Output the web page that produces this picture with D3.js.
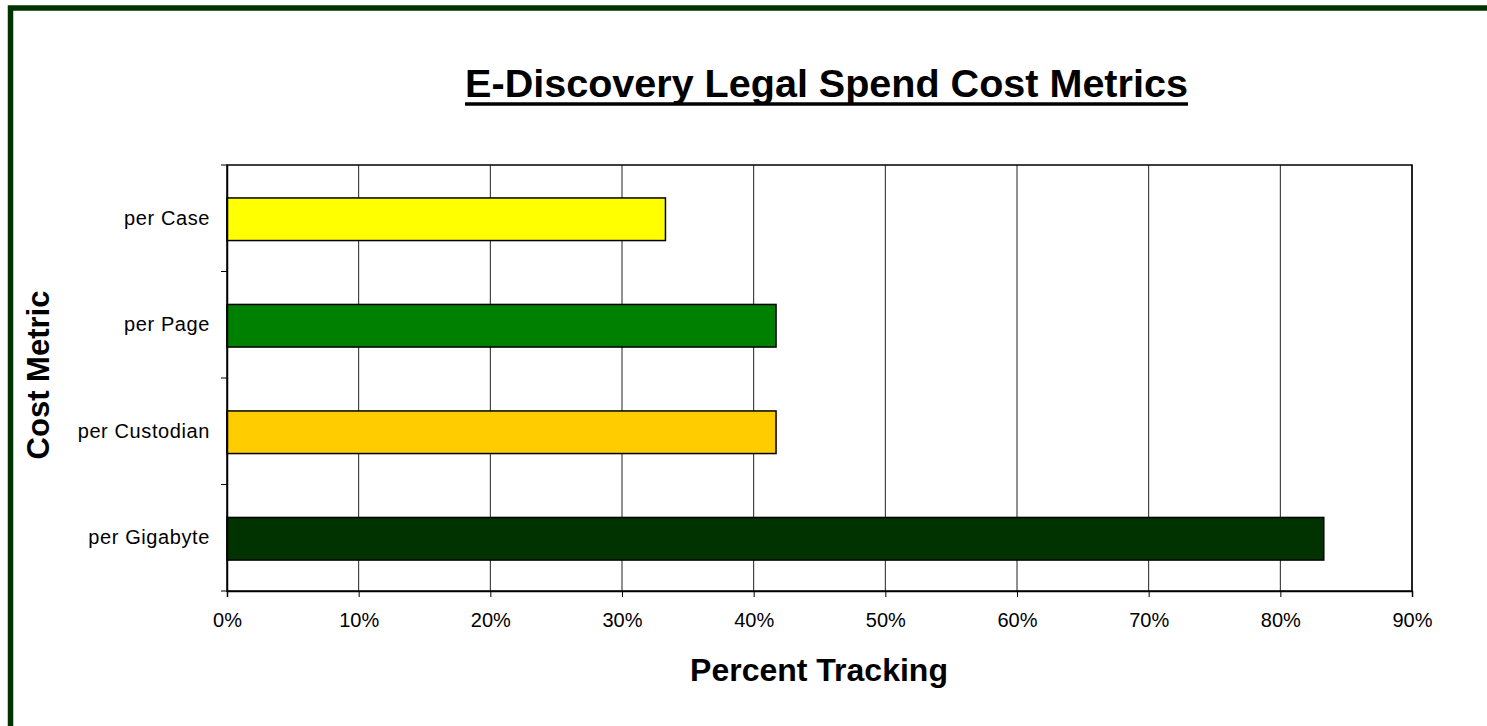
<!DOCTYPE html>
<html>
<head>
<meta charset="utf-8">
<script src="https://cdn.jsdelivr.net/npm/d3@7"></script>
<style>
  body { margin: 0; background: #fff; }
  svg text { font-family: "Liberation Sans", Arial, sans-serif; }
</style>
</head>
<body>
<svg id="chart" width="1487" height="726"></svg>
<script>
// data
const categories = ["per Case", "per Page", "per Custodian", "per Gigabyte"];
const percents = [33.3, 41.7, 41.7, 83.3];
const barColors = ["#ffff00", "#008000", "#ffcc00", "#003300"];
const xTicks = [0, 10, 20, 30, 40, 50, 60, 70, 80, 90];

const margin = {top: 165, left: 227, right: 75, bottom: 135};
const width = 1487, height = 726;

const svg = d3.select("#chart");

// dark green frame (only top + left visible in the shot)
svg.append("rect")
  .attr("x", 10.5).attr("y", 8)
  .attr("width", 1600).attr("height", 900)
  .attr("fill", "none")
  .attr("stroke", "#003300")
  .attr("stroke-width", 5.5);

const x = d3.scaleLinear().domain([0, 90]).range([margin.left, width - margin.right]);
const y = d3.scaleBand().domain(categories).range([margin.top, height - margin.bottom]).padding(0);

const g = svg.append("g");

// vertical gridlines
g.selectAll("line.grid")
  .data(xTicks.slice(1))
  .enter().append("line")
  .attr("class", "grid")
  .attr("x1", d => x(d)).attr("x2", d => x(d))
  .attr("y1", y.range()[0]).attr("y2", y.range()[1])
  .attr("stroke", "#222")
  .attr("stroke-width", 1);

// plot frame
g.append("rect")
  .attr("x", x(0)).attr("y", y.range()[0])
  .attr("width", x(90) - x(0)).attr("height", y.range()[1] - y.range()[0])
  .attr("fill", "none")
  .attr("stroke", "#000")
  .attr("stroke-width", 1.5);

// bars
const barH = y.bandwidth() * 0.4;
g.selectAll("rect.bar")
  .data(categories)
  .enter().append("rect")
  .attr("class", "bar")
  .attr("x", x(0))
  .attr("y", d => y(d) + (y.bandwidth() - barH) / 2 + 1)
  .attr("width", (d, i) => x(percents[i]) - x(0))
  .attr("height", barH)
  .attr("fill", (d, i) => barColors[i])
  .attr("stroke", "#000")
  .attr("stroke-width", 1.5);

// x axis
const axisX = g.append("g")
  .attr("transform", "translate(0," + y.range()[1] + ")")
  .call(d3.axisBottom(x).tickValues(xTicks).tickFormat(d => d + "%").tickSize(6).tickPadding(16));
axisX.select(".domain").attr("stroke", "#000").attr("stroke-width", 1.5);
axisX.selectAll(".tick line").attr("stroke", "#000");
axisX.selectAll(".tick text")
  .attr("font-size", 20)
  .attr("font-family", "'Liberation Sans', Arial, sans-serif")
  .attr("fill", "#000");

// y axis labels (centred) + boundary ticks
const axisY = g.append("g")
  .attr("transform", "translate(" + x(0) + ",0)")
  .call(d3.axisLeft(y).tickSize(0).tickPadding(17));
axisY.select(".domain").attr("stroke", "#000").attr("stroke-width", 1.5);
axisY.selectAll(".tick text")
  .attr("font-size", 20)
  .attr("letter-spacing", 0.6)
  .attr("font-family", "'Liberation Sans', Arial, sans-serif")
  .attr("fill", "#000");

const bounds = categories.map(c => y(c)).concat([y.range()[1]]);
g.selectAll("line.ytick")
  .data(bounds)
  .enter().append("line")
  .attr("class", "ytick")
  .attr("x1", x(0) - 6).attr("x2", x(0))
  .attr("y1", d => d).attr("y2", d => d)
  .attr("stroke", "#000");

// title, sized to span the same width as the reference
const titleW = 723, titleX = 826.5;
const title = svg.append("text")
  .attr("x", titleX).attr("y", 97)
  .attr("text-anchor", "middle")
  .attr("font-size", 37)
  .attr("font-weight", "bold")
  .text("E-Discovery Legal Spend Cost Metrics");
const tw = title.node().getComputedTextLength();
title.attr("font-size", 37 * titleW / tw);
svg.append("line")
  .attr("x1", titleX - titleW / 2).attr("x2", titleX + titleW / 2)
  .attr("y1", 104).attr("y2", 104)
  .attr("stroke", "#000").attr("stroke-width", 3.5);

// axis titles
svg.append("text")
  .attr("x", 819).attr("y", 681)
  .attr("text-anchor", "middle")
  .attr("font-size", 32)
  .attr("font-weight", "bold")
  .text("Percent Tracking");

svg.append("text")
  .attr("transform", "translate(49,375) rotate(-90)")
  .attr("text-anchor", "middle")
  .attr("font-size", 31)
  .attr("font-weight", "bold")
  .text("Cost Metric");
</script>
</body>
</html>
